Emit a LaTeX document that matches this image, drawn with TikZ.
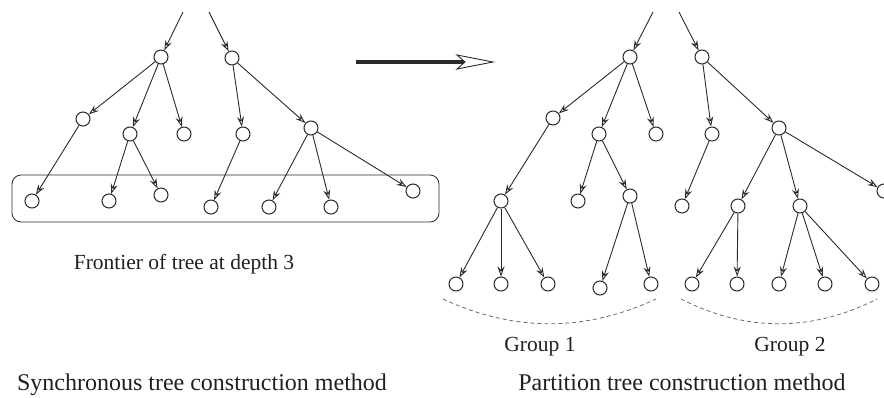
\documentclass[tikz,border=0pt]{standalone}
\usepackage{fontspec}
\setmainfont{Liberation Serif}
\usetikzlibrary{arrows.meta}
\definecolor{ink}{HTML}{2A2A2A}
\definecolor{txt}{HTML}{231F20}
\tikzset{
  vtx/.style={circle,draw=ink,minimum size=14pt,inner sep=0pt,line width=1pt},
  edge/.style={draw=ink,line width=0.9pt,-{Stealth[open,length=10pt,width=7pt,inset=3.5pt]}},
  lbl/.style={anchor=base,text=txt,font=\fontsize{21.5}{24}\selectfont,inner sep=0pt},
  ttl/.style={anchor=base,text=txt,font=\fontsize{24}{28}\selectfont,inner sep=0pt},
  grp/.style={draw=ink!70,line width=0.8pt,dash pattern=on 4pt off 3pt},
}
\begin{document}
\begin{tikzpicture}[x=1pt,y=-1pt]
\useasboundingbox (0,0) rectangle (884,397);
% ---------------- left tree ----------------
\coordinate (Lt1) at (183,12);
\coordinate (Lt2) at (209,12);
\node[vtx] (L1) at (161,57) {};
\node[vtx] (L2) at (232,58) {};
\node[vtx] (La) at (83,119) {};
\node[vtx] (Lb) at (130,134) {};
\node[vtx] (Lc) at (184,134) {};
\node[vtx] (Ld) at (243,134) {};
\node[vtx] (Le) at (311,128) {};
\node[vtx] (F0) at (32,201) {};
\node[vtx] (F1) at (109,201) {};
\node[vtx] (F2) at (161,195) {};
\node[vtx] (F3) at (211,207) {};
\node[vtx] (F4) at (269,207) {};
\node[vtx] (F5) at (331,207) {};
\node[vtx] (F6) at (413,191) {};
\foreach \a/\b in {Lt1/L1,Lt2/L2,L1/La,L1/Lb,L1/Lc,L2/Ld,L2/Le,La/F0,Lb/F1,Lb/F2,Ld/F3,Le/F4,Le/F5,Le/F6}
  \draw[edge] (\a) -- (\b);
\node[draw=ink,line width=0.8pt,rounded corners=9pt,minimum width=427pt,minimum height=47pt,inner sep=0pt] (box) at (225.5,198.5) {};
\node[lbl] (front) at (184,269) {Frontier of tree at depth 3};
\node[ttl] (t1) at (202,390) {Synchronous tree construction method};
% ---------------- big arrow ----------------
\coordinate (A0) at (356,62);
\coordinate (A1) at (465,62);
\draw[ink,line width=4pt] (A0) -- (A1);
\draw[ink,line width=0.9pt,fill=white,line join=miter] (457,55) -- (493,62) -- (457,69) -- (465,62) -- cycle;
% ---------------- right tree ----------------
\coordinate (Rt1) at (653,12);
\coordinate (Rt2) at (679,12);
\node[vtx] (R1) at (630,57) {};
\node[vtx] (R2) at (702,57) {};
\node[vtx] (Ra) at (553,118) {};
\node[vtx] (Rb) at (599,134) {};
\node[vtx] (Rc) at (656,134) {};
\node[vtx] (Rd) at (712,134) {};
\node[vtx] (Re) at (779,128) {};
\node[vtx] (Ra1) at (501,201) {};
\node[vtx] (Rb1) at (578,201) {};
\node[vtx] (Rb2) at (630,196) {};
\node[vtx] (Rd1) at (682,206) {};
\node[vtx] (Re1) at (738,206) {};
\node[vtx] (Re2) at (800,206) {};
\node[vtx] (Re3) at (884,191) {};
\node[vtx] (G1) at (456,284) {};
\node[vtx] (G2) at (501,284) {};
\node[vtx] (G3) at (548,284) {};
\node[vtx] (G4) at (600,288) {};
\node[vtx] (G5) at (651,284) {};
\node[vtx] (H1) at (692,284) {};
\node[vtx] (H2) at (737,284) {};
\node[vtx] (H3) at (779,284) {};
\node[vtx] (H4) at (825,284) {};
\node[vtx] (H5) at (872,284) {};
\foreach \a/\b in {Rt1/R1,Rt2/R2,R1/Ra,R1/Rb,R1/Rc,R2/Rd,R2/Re,Ra/Ra1,Rb/Rb1,Rb/Rb2,Rd/Rd1,Re/Re1,Re/Re2,Re/Re3,
                   Ra1/G1,Ra1/G2,Ra1/G3,Rb2/G4,Rb2/G5,Re1/H1,Re1/H2,Re2/H3,Re2/H4,Re2/H5}
  \draw[edge] (\a) -- (\b);
% group arcs
\coordinate (g1s) at (443,299);
\coordinate (g1e) at (656,299);
\coordinate (g2s) at (681,299);
\coordinate (g2e) at (877,299);
\draw[grp] (g1s) .. controls (514,332) and (585,332) .. (g1e);
\draw[grp] (g2s) .. controls (746,332) and (812,332) .. (g2e);
\node[lbl] (gl1) at (540,351) {Group 1};
\node[lbl] (gl2) at (790,351) {Group 2};
\node[ttl] (t2) at (682,390) {Partition tree construction method};
\end{tikzpicture}
\end{document}
